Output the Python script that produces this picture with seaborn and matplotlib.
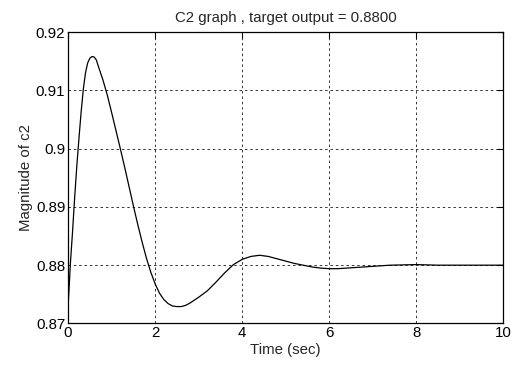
import matplotlib
matplotlib.use("Agg")
import matplotlib.pyplot as plt
import seaborn as sns
import pandas as pd

time_sec = [0.0, 0.03, 0.05, 0.1, 0.15, 0.2, 0.25, 0.3, 0.35, 0.4, 0.45, 0.5,
            0.55, 0.6, 0.65, 0.7, 0.8, 0.9, 1.0, 1.1, 1.2, 1.3, 1.4, 1.5,
            1.6, 1.7, 1.8, 1.9, 2.0, 2.1, 2.2, 2.3, 2.4, 2.5, 2.6, 2.7, 2.8,
            2.9, 3.0, 3.2, 3.4, 3.6, 3.8, 4.0, 4.2, 4.4, 4.6, 4.8, 5.0, 5.2,
            5.4, 5.6, 5.8, 6.0, 6.2, 6.4, 6.6, 6.8, 7.0, 7.4, 8.0, 8.5, 9.0, 10.0]
magnitude_c2 = [0.8730, 0.8770, 0.8800, 0.8855, 0.8915, 0.8970, 0.9018, 0.9063,
                0.9102, 0.9130, 0.9147, 0.9155, 0.9158, 0.9157, 0.9152, 0.9140,
                0.9118, 0.9092, 0.9062, 0.9031, 0.9000, 0.8968, 0.8935, 0.8902,
                0.8870, 0.8840, 0.8812, 0.8788, 0.8768, 0.8752, 0.8741, 0.8734,
                0.8730, 0.8729, 0.8729, 0.8731, 0.8735, 0.8740, 0.8745, 0.8756,
                0.8771, 0.8787, 0.8801, 0.8810, 0.8815, 0.8817, 0.8815, 0.8811,
                0.8807, 0.8803, 0.8800, 0.8797, 0.8795, 0.8794, 0.8794, 0.8795,
                0.8796, 0.8797, 0.8798, 0.8800, 0.8801, 0.8800, 0.8800, 0.8800]

x_ticks = [0, 2, 4, 6, 8, 10]
y_ticks = [0.87, 0.88, 0.89, 0.90, 0.91, 0.92]
y_tick_labels = ["0.87", "0.88", "0.89", "0.9", "0.91", "0.92"]

sns.set_style("white")
plt.rcParams['font.family'] = ['Liberation Sans', 'DejaVu Sans']

df = pd.DataFrame({"t": time_sec, "c2": magnitude_c2})

fig = plt.figure(figsize=(5.32, 3.68), dpi=100)
ax = fig.add_axes([0.128, 0.121, 0.818, 0.792])
sns.lineplot(data=df, x="t", y="c2", ax=ax, color="black", linewidth=0.9)

ax.set_xlim(0, 10)
ax.set_ylim(0.87, 0.92)
ax.set_xticks(x_ticks)
ax.set_xticklabels([str(v) for v in x_ticks])
ax.set_yticks(y_ticks)
ax.set_yticklabels(y_tick_labels)
ax.grid(True, color="#333333", linestyle=(0, (2.5, 3)), linewidth=0.7)
for s in ax.spines.values():
    s.set_visible(True)
    s.set_color("black")
    s.set_linewidth(0.9)
ax.tick_params(direction="in", length=4, width=0.8, top=True, right=True,
               labelsize=10.8, colors="black", pad=2)
ax.set_title("C2 graph , target output = 0.8800", fontsize=10.8, pad=7)
ax.set_xlabel("Time (sec)", fontsize=10.8, labelpad=2)
ax.set_ylabel("Magnitude of c2", fontsize=10.8, labelpad=2)

fig.savefig("out.png", dpi=100, facecolor="white")
